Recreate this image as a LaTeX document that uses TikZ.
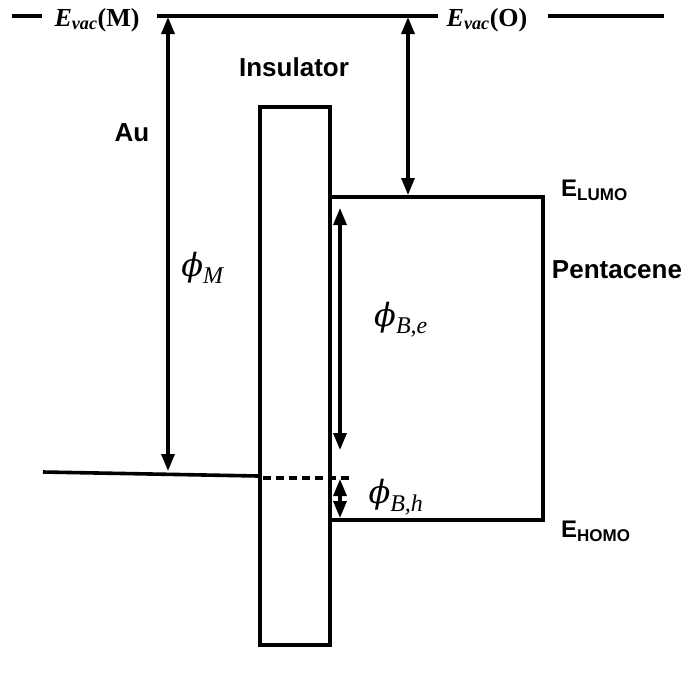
\documentclass[tikz,border=0pt]{standalone}
\usepackage{fontspec}
\setmainfont{Liberation Serif}
\setsansfont{Liberation Sans}
\newfontfamily\phifont{DejaVu Serif}
\usetikzlibrary{arrows.meta}
\newcommand{\phisym}{{\phifont\itshape ϕ}}
\begin{document}
\begin{tikzpicture}[x=1pt,y=-1pt,
  lvl/.style={line width=3.6pt},
  darr/.style={line width=3.2pt,{Triangle[width=13pt,length=17pt]}-{Triangle[width=13pt,length=17pt]}},
  lbl/.style={font=\sffamily\bfseries\fontsize{26}{30}\selectfont,inner sep=0pt},
  sublbl/.style={font=\sffamily\bfseries\fontsize{24}{28}\selectfont,inner sep=0pt},
  ev/.style={font=\bfseries\fontsize{26}{30}\selectfont,inner sep=0pt},
  ph/.style={font=\fontsize{32}{36}\selectfont,inner sep=0pt}]
\useasboundingbox (0,0) rectangle (684,673);
% vacuum levels
\coordinate (vl0) at (12,16);
\coordinate (vl1) at (42,16);
\coordinate (vm0) at (157,16);
\coordinate (vm1) at (438,16);
\coordinate (vo0) at (548,16);
\coordinate (vo1) at (664,16);
\draw[lvl] (vl0) -- (vl1);
\draw[lvl] (vm0) -- (vm1);
\draw[lvl] (vo0) -- (vo1);
\node[ev,anchor=center] (evm) at (97,20) {\textit{E}\textsubscript{\textit{vac}}(M)};
\node[ev,anchor=center] (evo) at (487,20) {\textit{E}\textsubscript{\textit{vac}}(O)};
% insulator
\node[draw,line width=3.4pt,minimum width=70pt,minimum height=538pt,inner sep=0pt] (ins) at (295,376) {};
\node[lbl] (inslbl) at (294,67) {Insulator};
% Au
\coordinate (au0) at (43,472);
\coordinate (au1) at (ins.west |- 0,476);
\draw[lvl] (au0) -- (au1);
\node[lbl] (aulbl) at (132,133) {Au};
\coordinate (fd0) at (ins.west |- 0,478);
\coordinate (fd1) at (352,478);
\draw[line width=3.6pt,dash pattern=on 8pt off 5pt] ([xshift=5pt]fd0) -- (fd1);
% pentacene
\coordinate (lumo0) at (ins.east |- 0,197);
\coordinate (lumo1) at (543,197);
\coordinate (homo1) at (543,520);
\coordinate (homo0) at (ins.east |- 0,520);
\draw[lvl,line join=miter] (lumo0) -- (lumo1) -- (homo1) -- (homo0);
\node[lbl] (pent) at (617,270) {Pentacene};
\node[sublbl,anchor=west] (elumo) at (561,190) {E\textsubscript{\fontsize{17}{20}\selectfont LUMO}};
\node[sublbl,anchor=west] (ehomo) at (561,531) {E\textsubscript{\fontsize{17}{20}\selectfont HOMO}};
% arrows
\coordinate (amtop) at (168,17);
\coordinate (ambot) at (168,471);
\draw[darr] (amtop) -- (ambot);
\node[ph] (phim) at (203,268) {\phisym\textsubscript{\fontsize{24}{28}\selectfont\textit{M}}};
\coordinate (aotop) at (408,17);
\coordinate (aobot) at (408,195);
\draw[darr] (aotop) -- (aobot);
\coordinate (betop) at (340,208);
\coordinate (bebot) at (340,450);
\draw[darr] (betop) -- (bebot);
\node[ph] (phibe) at (401,320) {\phisym\textsubscript{\fontsize{24}{28}\selectfont\textit{B,e}}};
\coordinate (bhtop) at (340,479);
\coordinate (bhbot) at (340,518);
\draw[darr] (bhtop) -- (bhbot);
\node[ph] (phibh) at (396,497) {\phisym\textsubscript{\fontsize{24}{28}\selectfont\textit{B,h}}};
\end{tikzpicture}
\end{document}
